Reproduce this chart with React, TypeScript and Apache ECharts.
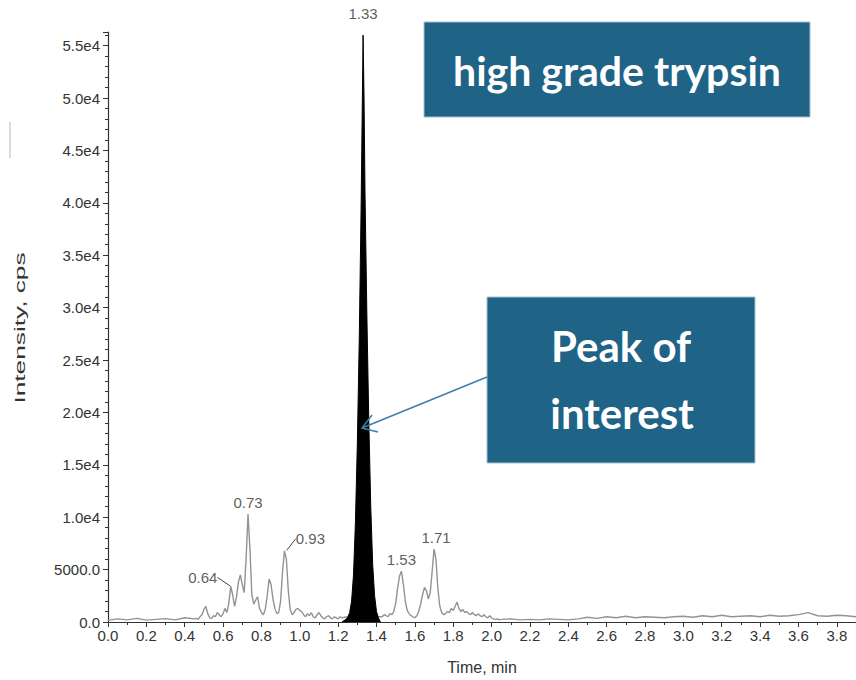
import React, { useEffect, useRef } from "react";
import * as echarts from "echarts";

// Grey XIC trace (time in min, intensity in cps)
const traceTime = [
  0.0, 0.05, 0.1, 0.15, 0.2, 0.25, 0.3, 0.35, 0.4, 0.45,
  0.46, 0.47, 0.48, 0.49, 0.5, 0.51, 0.52, 0.53, 0.54, 0.55, 0.56, 0.57, 0.58, 0.59,
  0.6, 0.61, 0.62, 0.63, 0.64, 0.65, 0.66, 0.67, 0.68, 0.69,
  0.7, 0.71, 0.72, 0.73, 0.74, 0.75, 0.76, 0.77, 0.78, 0.79,
  0.8, 0.81, 0.82, 0.83, 0.84, 0.85, 0.86, 0.87, 0.88, 0.89,
  0.9, 0.91, 0.92, 0.93, 0.94, 0.95, 0.96, 0.97, 0.98, 0.99,
  1.0, 1.01, 1.02, 1.03, 1.04, 1.05, 1.06, 1.07, 1.08, 1.09,
  1.1, 1.11, 1.12, 1.13, 1.14, 1.15, 1.16, 1.17, 1.18, 1.19,
  1.2, 1.21, 1.22, 1.25, 1.3, 1.35, 1.4, 1.42, 1.43, 1.44, 1.45, 1.46, 1.47, 1.48, 1.49,
  1.5, 1.51, 1.52, 1.53, 1.54, 1.55, 1.56, 1.57, 1.58, 1.59,
  1.6, 1.61, 1.62, 1.63, 1.64, 1.65, 1.66, 1.67, 1.68, 1.69,
  1.7, 1.71, 1.72, 1.73, 1.74, 1.75, 1.76, 1.77, 1.78, 1.79,
  1.8, 1.81, 1.82, 1.83, 1.84, 1.85, 1.86, 1.87, 1.88, 1.89,
  1.9, 1.91, 1.92, 1.93, 1.94, 1.95, 1.96, 1.97, 1.98, 1.99,
  2.0, 2.01, 2.02, 2.03, 2.04, 2.05,
  2.1, 2.15, 2.2, 2.25, 2.3, 2.35, 2.4, 2.45, 2.5, 2.55, 2.6, 2.65, 2.7, 2.75,
  2.8, 2.85, 2.9, 2.95, 3.0, 3.05, 3.1, 3.15, 3.2, 3.25, 3.3, 3.35, 3.4, 3.45,
  3.5, 3.55, 3.6, 3.65, 3.7, 3.75, 3.8, 3.85, 3.9,
];
const traceIntensity = [
  150, 300, 200, 350, 180, 250, 320, 200, 400, 300,
  350, 250, 500, 700, 1200, 1500, 800, 400, 350, 600, 500, 900, 700, 500,
  800, 1300, 900, 1800, 3400, 2600, 1500, 2400, 3800, 4500,
  3600, 2800, 6000, 10300, 7000, 2600, 1700, 2100, 2400, 1300,
  900, 700, 1200, 2500, 4100, 3600, 2200, 1300, 800, 900,
  2000, 4800, 6800, 6000, 3000, 1200, 700, 900, 1200, 1300,
  1100, 1000, 700, 500, 800, 600, 900, 500, 400, 700,
  900, 600, 400, 300, 500, 600, 400, 300, 500, 400,
  300, 500, 400, 500, 600, 600, 500, 500, 500, 700, 600, 500, 800, 700, 1000,
  1800, 3200, 4400, 4850, 3600, 2000, 1100, 800, 600, 500,
  400, 600, 1000, 1700, 2600, 3300, 3000, 2200, 2800, 4800,
  6950, 6000, 3200, 1500, 900, 700, 800, 1000, 900, 1300,
  1100, 1500, 1900, 1300, 1000, 1200, 900, 1000, 800, 700,
  900, 700, 600, 800, 600, 500, 700, 500, 400, 600,
  400, 300, 250, 300, 200, 250,
  300, 200, 250, 200, 300, 250, 200, 300, 450, 350, 500, 400, 550, 400,
  500, 450, 400, 500, 550, 450, 600, 500, 650, 500, 550, 600, 500, 650,
  550, 600, 700, 900, 600, 550, 650, 600, 500,
];

// Black filled peak of interest
const peakTime = [
  1.22, 1.24, 1.25, 1.26, 1.27, 1.28, 1.29, 1.3, 1.31, 1.32, 1.325, 1.33,
  1.335, 1.34, 1.35, 1.36, 1.37, 1.38, 1.39, 1.4, 1.41, 1.42,
];
const peakIntensity = [
  0, 250, 450, 900, 2000, 4500, 9500, 17000, 27000, 40000, 48000, 56000,
  50000, 41000, 29000, 19000, 11000, 5500, 2500, 1000, 400, 0,
];

// Retention-time labels
const labelTime = [0.64, 0.73, 0.93, 1.33, 1.53, 1.71];
const labelIntensity = [3400, 10300, 6800, 56000, 4850, 6950];

const yTickFormat = (v: number) =>
  v === 0 ? "0.0" : v < 10000 ? v.toFixed(1) : (v / 10000).toFixed(1) + "e4";

export default function App() {
  const ref = useRef<HTMLDivElement>(null);
  useEffect(() => {
    if (!ref.current) return;
    const chart = echarts.init(ref.current, undefined, { renderer: "svg" });
    const font = "Liberation Sans, Arial, sans-serif";
    const labelMoves: Record<number, { dx: number; dy: number }> = {
      0: { dx: -28, dy: 3 },
      2: { dx: 24, dy: 0 },
      3: { dx: 0, dy: -10 },
    };
    chart.setOption({
      animation: false,
      backgroundColor: "#ffffff",
      grid: { left: 108, right: 0, top: 32, bottom: 57 },
      xAxis: {
        type: "value",
        min: 0,
        max: 3.9,
        interval: 0.2,
        name: "Time, min",
        nameLocation: "middle",
        nameGap: 37,
        nameTextStyle: { fontFamily: font, fontSize: 16, color: "#333" },
        axisLine: { onZero: true, lineStyle: { color: "#333", width: 1.2 } },
        axisTick: { show: true, length: 5, lineStyle: { color: "#333" } },
        minorTick: { show: true, splitNumber: 2, length: 3, lineStyle: { color: "#333" } },
        axisLabel: {
          fontFamily: font,
          fontSize: 15,
          color: "#333",
          margin: 6,
          showMaxLabel: false,
          formatter: (v: number) => v.toFixed(1),
        },
        splitLine: { show: false },
      },
      yAxis: {
        type: "value",
        min: 0,
        max: 56300,
        interval: 5000,
        axisLine: { show: true, lineStyle: { color: "#333", width: 1.2 } },
        axisTick: { show: true, length: 5, lineStyle: { color: "#333" } },
        minorTick: { show: true, splitNumber: 5, length: 3, lineStyle: { color: "#333" } },
        axisLabel: {
          fontFamily: font,
          fontSize: 15,
          color: "#333",
          margin: 8,
          showMaxLabel: false,
          formatter: yTickFormat,
        },
        splitLine: { show: false },
      },
      series: [
        {
          type: "line",
          data: traceTime.map((t, i) => [t, traceIntensity[i]]),
          symbol: "none",
          lineStyle: { color: "#939393", width: 1.4 },
          z: 2,
        },
        {
          type: "line",
          data: peakTime.map((t, i) => [t, peakIntensity[i]]),
          symbol: "none",
          lineStyle: { color: "#000", width: 1 },
          areaStyle: { color: "#000", opacity: 1 },
          z: 3,
        },
        {
          type: "scatter",
          data: labelTime.map((t, i) => ({
            value: [t, labelIntensity[i]],
            labelLine: { show: i === 0 || i === 2 },
          })),
          symbolSize: 1,
          itemStyle: { color: "rgba(0,0,0,0)" },
          label: {
            show: true,
            position: "top",
            distance: 4,
            fontFamily: font,
            fontSize: 15,
            color: "#333",
            formatter: (p: any) => p.value[0].toFixed(2),
          },
          labelLayout: (p: any) => labelMoves[p.dataIndex] || {},
          labelLine: { show: false, lineStyle: { color: "#444", width: 1 } },
          z: 5,
        },
      ],
      graphic: [
        {
          type: "line",
          shape: { x1: 10, y1: 122, x2: 10, y2: 158 },
          style: { stroke: "#dcdcd4", lineWidth: 2 },
        },
        {
          type: "text",
          x: 20,
          y: 328,
          rotation: Math.PI / 2,
          scaleX: 1.75,
          style: {
            text: "Intensity, cps",
            font: "15px Liberation Sans, Arial, sans-serif",
            fill: "#333",
            align: "center",
            verticalAlign: "middle",
          },
        },
        {
          type: "rect",
          shape: { x: 424, y: 22, width: 386, height: 95 },
          style: { fill: "#1f6387", stroke: "#a9c0cc", lineWidth: 1 },
        },
        {
          type: "text",
          x: 617,
          y: 70,
          style: {
            text: "high grade trypsin",
            font: "bold 41px Lato, sans-serif",
            fill: "#ffffff",
            align: "center",
            verticalAlign: "middle",
          },
        },
        {
          type: "rect",
          shape: { x: 487, y: 297, width: 268, height: 166 },
          style: { fill: "#1f6387", stroke: "#a9c0cc", lineWidth: 1 },
        },
        {
          type: "text",
          x: 621,
          y: 346,
          style: {
            text: "Peak of",
            font: "bold 42px Lato, sans-serif",
            fill: "#ffffff",
            align: "center",
            verticalAlign: "middle",
          },
        },
        {
          type: "text",
          x: 622,
          y: 413,
          style: {
            text: "interest",
            font: "bold 42px Lato, sans-serif",
            fill: "#ffffff",
            align: "center",
            verticalAlign: "middle",
          },
        },
        {
          type: "line",
          z: 100,
          shape: { x1: 487, y1: 377, x2: 362, y2: 428 },
          style: { stroke: "#3d7fab", lineWidth: 1.5 },
        },
        {
          type: "polyline",
          z: 100,
          shape: { points: [[372, 415], [362, 428], [378, 432]] },
          style: { stroke: "#3d7fab", lineWidth: 1.5, fill: "none" },
        },
      ],
    });
    return () => chart.dispose();
  }, []);
  return (
    <div
      ref={ref}
      style={{ position: "fixed", left: 0, top: 0, width: 856, height: 680 }}
    />
  );
}
